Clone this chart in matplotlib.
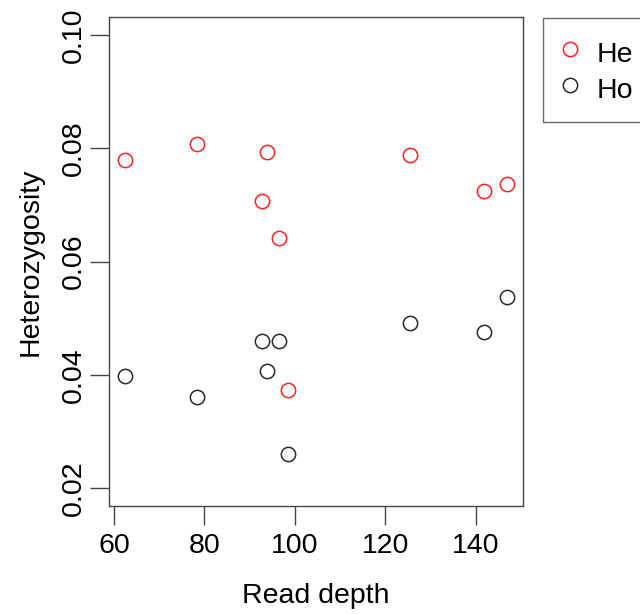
import matplotlib
matplotlib.use("Agg")
import matplotlib.pyplot as plt

read_depth = [62.37, 78.43, 92.78, 93.82, 96.55, 98.60, 125.56, 141.88, 147.04]
he = [0.0779, 0.0807, 0.0707, 0.0794, 0.0641, 0.0373, 0.0788, 0.0724, 0.0737]
ho = [0.0397, 0.0360, 0.0459, 0.0406, 0.0459, 0.0259, 0.0492, 0.0475, 0.0537]
x_ticks = [60, 80, 100, 120, 140]
y_ticks = [0.02, 0.04, 0.06, 0.08, 0.10]
y_ticklabels = ["0.02", "0.04", "0.06", "0.08", "0.10"]
series_labels = ["He", "Ho"]

plt.rcParams['font.family'] = ['Liberation Sans', 'DejaVu Sans']
fs = 20.5
red = '#ff2020'
dark = '#2a2a2a'

fig = plt.figure(figsize=(6.4, 6.14), dpi=100)
ax = fig.add_axes([109.3/640, 1-506/614, (522.7-109.3)/640, (506-17)/614])

ax.plot(read_depth, he, linestyle='none', marker='o', markersize=10.3, markerfacecolor='none',
        markeredgecolor=red, markeredgewidth=1.1, label=series_labels[0])
ax.plot(read_depth, ho, linestyle='none', marker='o', markersize=10.3, markerfacecolor='none',
        markeredgecolor=dark, markeredgewidth=1.1, label=series_labels[1])

xmin, xmax = min(read_depth), max(read_depth)
pad = 0.04 * (xmax - xmin)
ax.set_xlim(xmin - pad, xmax + pad)
ypad = 0.04 * (0.10 - 0.02)
ax.set_ylim(0.02 - ypad, 0.10 + ypad)

ax.set_xticks(x_ticks)
ax.set_xticklabels([str(v) for v in x_ticks], fontsize=fs)
ax.set_yticks(y_ticks)
ax.set_yticklabels(y_ticklabels, fontsize=fs, rotation=90, va='center')
ax.tick_params(axis='both', direction='out', length=13.5, width=1.0, color='#444444')
ax.tick_params(axis='x', pad=6)
ax.tick_params(axis='y', pad=3)

for s in ax.spines.values():
    s.set_color('#444444')
    s.set_linewidth(1.0)

ax.set_xlabel("Read depth", fontsize=fs, labelpad=17)
ax.set_ylabel("Heterozygosity", fontsize=fs, labelpad=12)

leg = fig.legend(loc='upper left', bbox_to_anchor=(543.3/640, 1-18.3/614), fontsize=fs,
                 frameon=True, fancybox=False, edgecolor='#444444', borderpad=0.655,
                 handlelength=0.59, handleheight=1.25, handletextpad=0.64,
                 labelspacing=0.195, borderaxespad=0)
leg.get_frame().set_linewidth(1.0)

fig.savefig("out.png", dpi=100)
